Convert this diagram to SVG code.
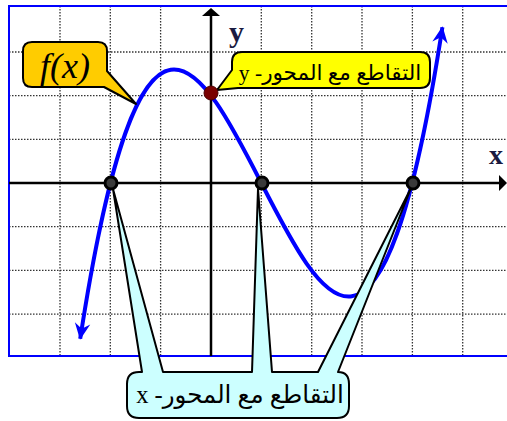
<svg xmlns="http://www.w3.org/2000/svg" width="507" height="421" viewBox="0 0 507 421">
  <style>
    .grid { stroke: #333; stroke-width: 1.3; stroke-dasharray: 1.5 1.5; fill: none; }
    .axis { stroke: #000; stroke-width: 2.5; fill: none; }
    .callout { stroke: #000; stroke-width: 2; stroke-linejoin: round; }
    .ar { font-family: 'Liberation Serif', 'DejaVu Sans', serif; fill: #000; }
    .lbl { font-family: 'Liberation Serif', serif; font-weight: bold; fill: #1a1a40; }
    .xdot { fill: #3a3a3a; stroke: #000; stroke-width: 3; }
  </style>
  <defs>
    <marker id="arrBlue" markerUnits="userSpaceOnUse" markerWidth="20" markerHeight="20" viewBox="-16 -8 18 16" refX="0" refY="0" orient="auto-start-reverse">
      <path d="M1,0 L-14,-7 L-9,0 L-14,7 Z" fill="#0000ff"/>
    </marker>
  </defs>
  <rect x="0" y="0" width="507" height="421" fill="#fff"/>
  <g id="grid">
    <path class="grid" d="M60,6 V356 M110.3,6 V356 M160.6,6 V356 M261.3,6 V356 M311.7,6 V356 M362,6 V356 M412.4,6 V356 M462.7,6 V356"/>
    <path class="grid" d="M9,52 H507 M9,95.6 H507 M9,139.3 H507 M9,226.7 H507 M9,270.4 H507 M9,314.1 H507"/>
  </g>
  <g id="frame">
    <path d="M507,6 H9 V356 H507" fill="none" stroke="#0000ff" stroke-width="2"/>
  </g>
  <g id="axes">
    <path class="axis" d="M9,183 H500"/>
    <path d="M507,183 L499,175 L499,191 Z" fill="#000"/>
    <path class="axis" d="M211,356 V15"/>
    <path d="M211,8 L202,16 L220,16 Z" fill="#000"/>
    <text class="lbl" x="229" y="42" font-size="30">y</text>
    <text class="lbl" x="489" y="164" font-size="28">x</text>
  </g>
  <g id="curve">
    <path d="M80.2,338.75 C200.9,-444.7 321.7,810.7 442.4,27.25" fill="none" stroke="#0000ff" stroke-width="4" marker-start="url(#arrBlue)" marker-end="url(#arrBlue)"/>
  </g>
  <g id="connectors">
    <path class="callout" fill="#ffcc00" d="M32,42 H98 Q107,42 107,51 V71 L136,104 L104,87 H32 Q23,87 23,78 V51 Q23,42 32,42 Z"/>
    <path class="callout" fill="#ffff00" d="M242,52 H420 Q430,52 430,62 V78 Q430,88 420,88 H238 L217,90 L232,70 V62 Q232,52 242,52 Z"/>
    <path class="callout" fill="#ccffff" d="M139,372 H142 L113,189 L163,372 H252 L258,189 L272,372 H318 L411,188 L338,372 Q349,372 349,384 V406 Q349,418 337,418 H139 Q127,418 127,406 V384 Q127,372 139,372 Z"/>
  </g>
  <g id="node-fx">
    <text x="65" y="78" text-anchor="middle" font-family="'Liberation Serif', serif" font-style="italic" font-size="36">f(x)</text>
  </g>
  <g id="node-yint">
    <text class="ar" x="330" y="80" text-anchor="middle" direction="rtl" font-size="21.5">التقاطع مع المحور- y</text>
    <circle cx="211" cy="93" r="7" fill="#7a0000" stroke="#4a0000" stroke-width="1"/>
  </g>
  <g id="node-xint">
    <text class="ar" x="240" y="403" text-anchor="middle" direction="rtl" font-size="24.5">التقاطع مع المحور- x</text>
    <circle class="xdot" cx="111" cy="183" r="6"/>
    <circle class="xdot" cx="262" cy="183" r="6"/>
    <circle class="xdot" cx="413" cy="183" r="6"/>
  </g>
</svg>
